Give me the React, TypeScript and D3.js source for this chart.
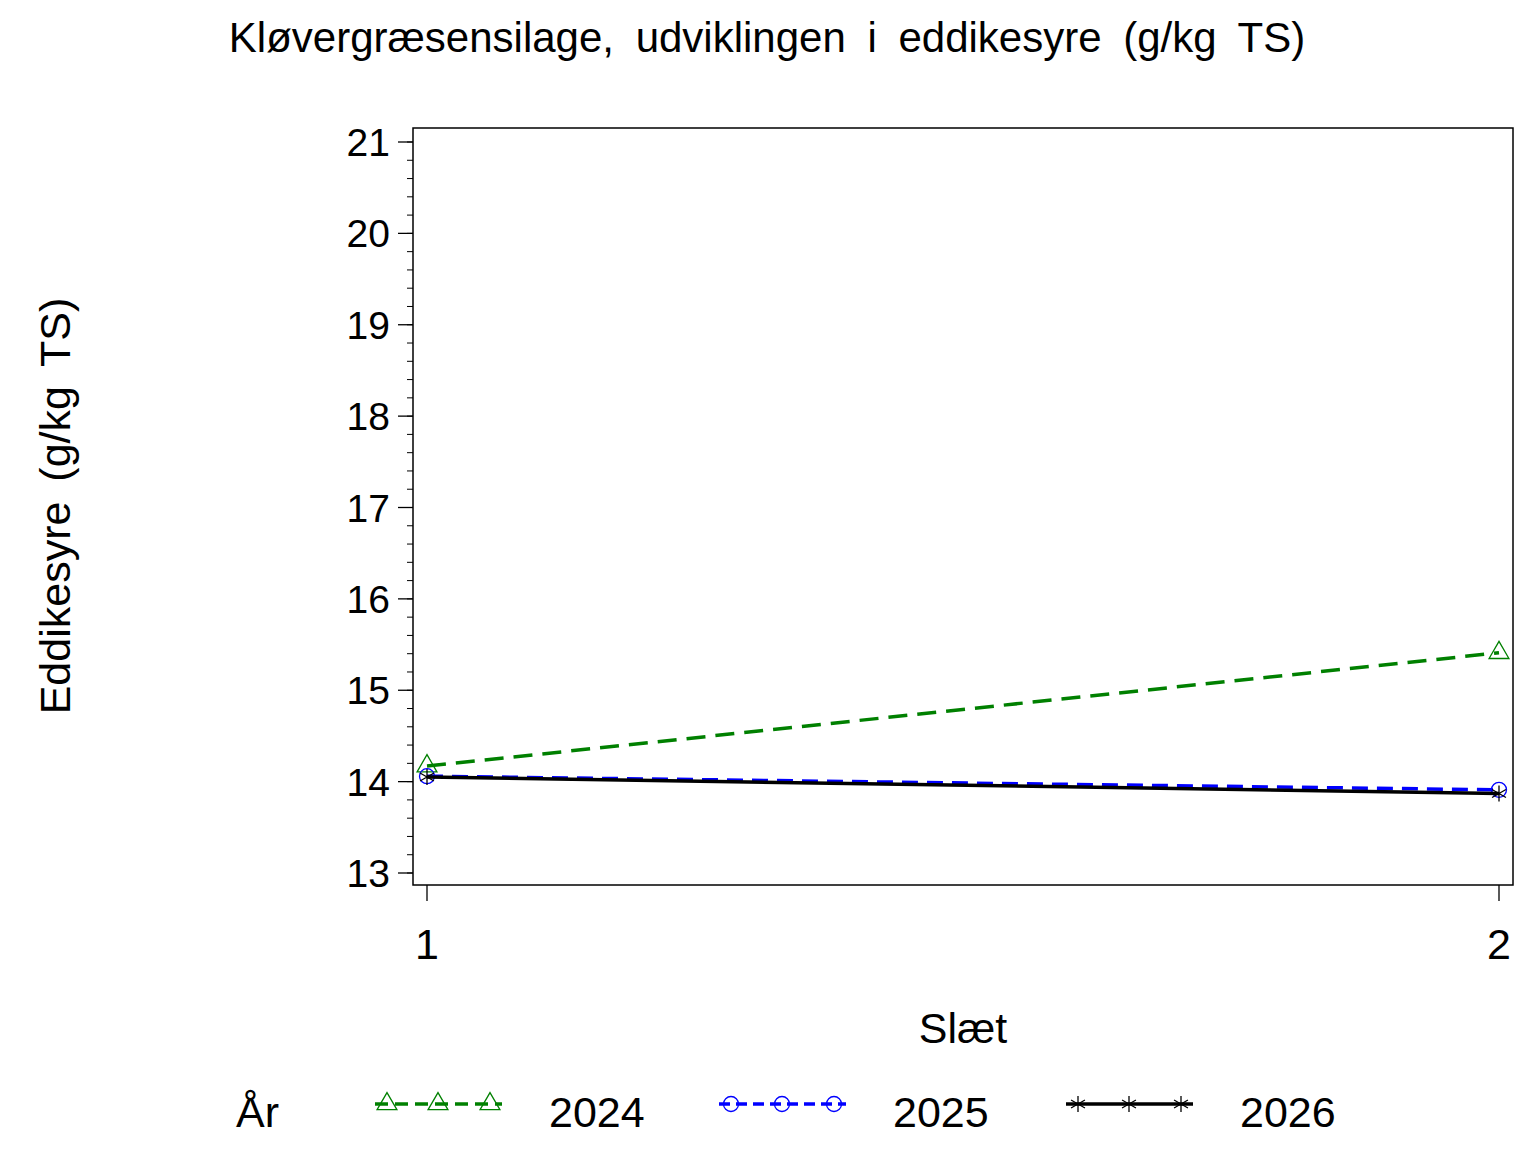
import * as d3 from "d3";

const slaet = [1, 2];
const years = ["2024", "2025", "2026"];
const v2024 = [14.17, 15.41];
const v2025 = [14.06, 13.91];
const v2026 = [14.05, 13.87];
const yTicks = [13, 14, 15, 16, 17, 18, 19, 20, 21];
const title = "Kløvergræsensilage, udviklingen i eddikesyre (g/kg TS)";

const font = "'Liberation Sans', Arial, sans-serif";

function marker(kind: string, cx: number, cy: number, color: string, key: string) {
  if (kind === "triangle") {
    const p = d3.symbol(d3.symbolTriangle, 170)() || "";
    return <path key={key} d={p} transform={`translate(${cx},${cy})`} fill="none" stroke={color} strokeWidth={1.3} />;
  }
  if (kind === "circle") {
    return <circle key={key} cx={cx} cy={cy} r={7.5} fill="none" stroke={color} strokeWidth={1.3} />;
  }
  const r = 8;
  const a = r * 0.87;
  const d = `M${cx},${cy - r}L${cx},${cy + r}M${cx - a},${cy - r / 2}L${cx + a},${cy + r / 2}M${cx - a},${cy + r / 2}L${cx + a},${cy - r / 2}`;
  return <path key={key} d={d} stroke={color} strokeWidth={1.3} fill="none" />;
}

export default function App() {
  const width = 1536;
  const height = 1152;
  const frame = { left: 413, right: 1513, top: 128, bottom: 885 };
  const x = d3.scaleLinear([1, 2], [427, 1499]);
  const y = d3.scaleLinear([13, 21], [873, 142]);
  const minor = y.ticks(40);

  const series = [
    { name: years[0], values: v2024, color: "#008000", dash: "19,10", kind: "triangle", legendDash: "13,7" },
    { name: years[1], values: v2025, color: "#0000ff", dash: "16,9", kind: "circle", legendDash: "11,6" },
    { name: years[2], values: v2026, color: "#000000", dash: "none", kind: "star", legendDash: "none" },
  ];

  const line = d3.line<number>((_d, i) => x(slaet[i]), (d) => y(d));
  const legendX = [375, 719, 1066];

  return (
    <svg width={width} height={height} style={{ position: "absolute", left: 0, top: 0, background: "#fff" }} fontFamily={font}>
      <rect width={width} height={height} fill="#fff" />
      <text x={767} y={52} textAnchor="middle" fontSize={42} style={{ wordSpacing: "10px" }}>{title}</text>

      <rect x={frame.left} y={frame.top} width={frame.right - frame.left} height={frame.bottom - frame.top} fill="none" stroke="#000" strokeWidth={1.5} />

      {minor.map((t) => (
        <line key={"m" + t} x1={407} x2={frame.left} y1={y(t)} y2={y(t)} stroke="#000" strokeWidth={1} />
      ))}
      {yTicks.map((t) => (
        <g key={"t" + t}>
          <line x1={398} x2={frame.left} y1={y(t)} y2={y(t)} stroke="#000" strokeWidth={1.3} />
          <text x={390} y={y(t) + 14} textAnchor="end" fontSize={39}>{t}</text>
        </g>
      ))}
      {slaet.map((s) => (
        <g key={"x" + s}>
          <line x1={x(s)} x2={x(s)} y1={frame.bottom} y2={901} stroke="#000" strokeWidth={1.3} />
          <text x={x(s)} y={959} textAnchor="middle" fontSize={43}>{s}</text>
        </g>
      ))}

      <text transform="translate(70,506) rotate(-90)" textAnchor="middle" fontSize={43} style={{ wordSpacing: "8px" }}>Eddikesyre (g/kg TS)</text>
      <text x={963} y={1043} textAnchor="middle" fontSize={43}>Slæt</text>

      {series.map((s) => (
        <g key={s.name}>
          <path d={line(s.values) || ""} fill="none" stroke={s.color} strokeWidth={3.5} strokeDasharray={s.dash} />
          {s.values.map((v, i) => marker(s.kind, x(slaet[i]), y(v), s.color, s.name + i))}
        </g>
      ))}

      <text x={236} y={1127} fontSize={43}>År</text>
      {series.map((s, k) => {
        const x0 = legendX[k];
        const ly = 1104;
        return (
          <g key={"l" + s.name}>
            <line x1={x0} x2={x0 + 127} y1={ly} y2={ly} stroke={s.color} strokeWidth={3.5} strokeDasharray={s.legendDash} />
            {[12, 63, 115].map((dx, j) => marker(s.kind, x0 + dx, ly, s.color, "lm" + s.name + j))}
            <text x={x0 + 174} y={1127} fontSize={43}>{s.name}</text>
          </g>
        );
      })}
    </svg>
  );
}
